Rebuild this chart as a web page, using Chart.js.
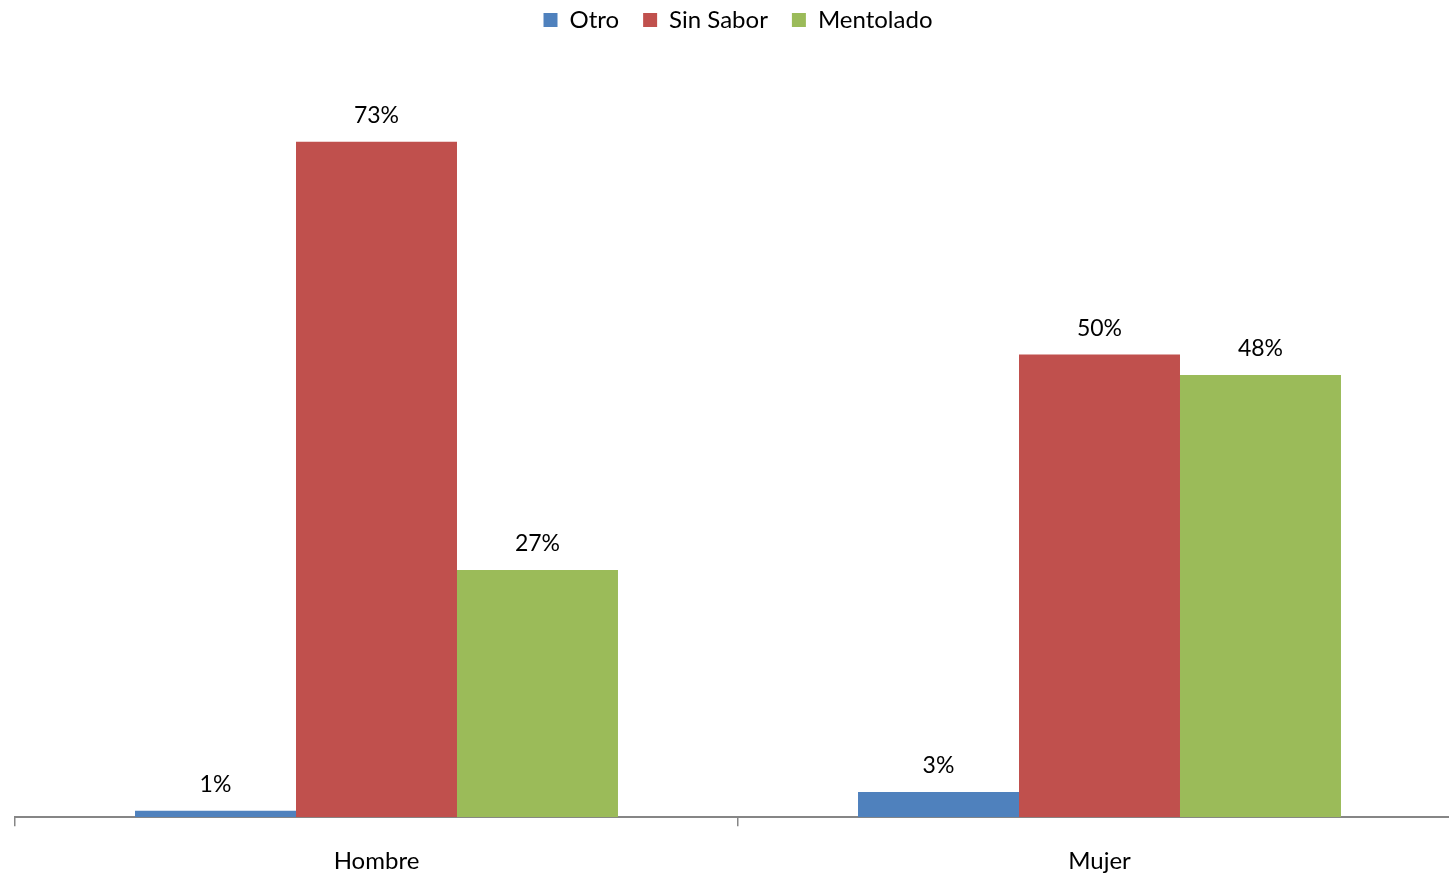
<!DOCTYPE html>
<html>
<head>
<meta charset="utf-8">
<script src="https://cdn.jsdelivr.net/npm/chart.js@4"></script>
<style>
  html, body { margin: 0; padding: 0; background: #fff; overflow: hidden; }
  #wrap { position: relative; width: 1471px; height: 897px; }
</style>
</head>
<body>
<div id="wrap"><canvas id="c"></canvas></div>
<script>
const categories = ['Hombre', 'Mujer'];
const seriesNames = ['Otro', 'Sin Sabor', 'Mentolado'];
const otro = [0.7, 2.7];
const sinSabor = [72.7, 49.8];
const mentolado = [26.6, 47.6];
const colors = ['#4F81BD', '#C0504D', '#9BBB59'];

const FONT = 'Lato, "Open Sans", sans-serif';

const valueLabels = {
  id: 'valueLabels',
  afterDatasetsDraw(chart) {
    const ctx = chart.ctx;
    ctx.save();
    ctx.font = '23px ' + FONT;
    ctx.fillStyle = '#000';
    ctx.textAlign = 'center';
    ctx.textBaseline = 'alphabetic';
    chart.data.datasets.forEach((ds, i) => {
      const meta = chart.getDatasetMeta(i);
      meta.data.forEach((bar, j) => {
        ctx.fillText(Math.round(ds.data[j]) + '%', bar.x, bar.y - 19);
      });
    });
    ctx.restore();
  }
};

const legendSpace = {
  id: 'legendSpace',
  beforeInit(chart) {
    const origFit = chart.legend.fit;
    chart.legend.fit = function () {
      origFit.bind(chart.legend)();
      this.height += 32;
    };
  }
};

new Chart(document.getElementById('c'), {
  type: 'bar',
  data: {
    labels: categories,
    datasets: [
      { label: seriesNames[0], data: otro, backgroundColor: colors[0] },
      { label: seriesNames[1], data: sinSabor, backgroundColor: colors[1] },
      { label: seriesNames[2], data: mentolado, backgroundColor: colors[2] }
    ]
  },
  options: {
    responsive: true,
    maintainAspectRatio: false,
    animation: false,
    layout: { padding: { left: 15, right: 10, top: -16, bottom: 0 } },
    datasets: { bar: { categoryPercentage: 0.668, barPercentage: 1.0 } },
    plugins: {
      legend: {
        position: 'top',
        labels: {
          font: { family: FONT, size: 24 },
          color: '#000',
          boxWidth: 14,
          boxHeight: 14,
          padding: 24
        }
      },
      tooltip: { enabled: false }
    },
    scales: {
      x: {
        offset: true,
        grid: { offset: true, drawOnChartArea: false, drawTicks: true, tickLength: 9, color: '#868686', lineWidth: 1.5 },
        border: { display: true, color: '#868686', width: 2 },
        ticks: { font: { family: FONT, size: 24 }, color: '#000', padding: 21 }
      },
      y: {
        display: false,
        min: 0,
        max: 80
      }
    }
  },
  plugins: [valueLabels, legendSpace]
});
</script>
</body>
</html>
